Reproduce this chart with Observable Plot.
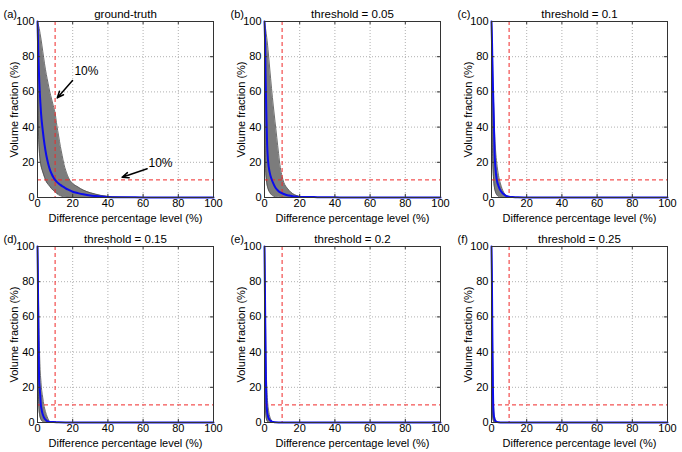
<!DOCTYPE html>
<html>
<head>
<meta charset="utf-8">
<script src="https://cdn.jsdelivr.net/npm/d3@7"></script>
<script src="https://cdn.jsdelivr.net/npm/@observablehq/plot@0.6"></script>
<style>
  html, body { margin: 0; padding: 0; background: #fff; }
  #chart { position: relative; width: 682px; height: 452px; overflow: hidden; }
  .panel { position: absolute; }
</style>
</head>
<body>
<div id="chart"></div>
<script>
// ---- data ----
const panelLabels = ["(a)", "(b)", "(c)", "(d)", "(e)", "(f)"];
const panelTitles = ["ground-truth", "threshold = 0.05", "threshold = 0.1", "threshold = 0.15", "threshold = 0.2", "threshold = 0.25"];
const xTicks = [0, 20, 40, 60, 80, 100];
const yTicks = [0, 20, 40, 60, 80, 100];
const xLabel = "Difference percentage level (%)";
const yLabel = "Volume fraction (%)";
const refLine = 10;

// (a) ground-truth
const diffA  = [0, 0.5, 1, 1.5, 2, 3, 4, 5, 6, 7, 8, 9, 10, 11, 12, 13, 14, 15, 16, 18, 20, 23, 26, 30, 33, 36, 40, 45, 50, 60, 70, 100];
const upperA = [100, 98, 96, 93, 90, 83, 76, 70, 65, 60, 56, 52, 48, 41, 35, 29, 24, 19, 15.5, 10.5, 8, 6, 4.2, 2.7, 1.9, 1.2, 0.6, 0.25, 0.1, 0, 0, 0];
const meanA  = [100, 80, 66, 56, 48, 38, 30, 24, 19.5, 16, 13.5, 11.5, 10, 8.9, 8, 7.2, 6.5, 5.9, 5.2, 4.2, 3.3, 2.5, 1.8, 1.1, 0.8, 0.55, 0.35, 0.2, 0.12, 0.05, 0, 0];
const lowerA = [100, 40, 27, 21, 18, 14.5, 11.5, 9, 7.5, 6.3, 5, 4, 3.2, 2.2, 1.5, 1, 0.6, 0.4, 0.2, 0.05, 0, 0, 0, 0, 0, 0, 0, 0, 0, 0, 0, 0];

// (b) threshold = 0.05
const diffB  = [0, 0.3, 0.6, 1, 1.5, 2, 3, 4, 5, 6, 7, 8, 9, 10, 11, 12, 13, 14, 16, 18, 20, 23, 26, 30, 35, 40, 47, 60, 100];
const upperB = [100, 98, 96, 93, 89, 84, 73, 62, 52, 43, 34, 25, 17, 12, 8.5, 6.5, 5.2, 4, 2.2, 1.2, 0.6, 0.2, 0, 0, 0, 0, 0, 0, 0];
const meanB  = [100, 90, 70, 50, 30, 21, 14, 10.5, 8, 6, 4.6, 3.6, 2.9, 2.4, 2, 1.6, 1.3, 1.1, 0.7, 0.5, 0.35, 0.3, 0.25, 0.2, 0.15, 0.1, 0, 0, 0];
const lowerB = [100, 35, 18, 11, 7, 5, 2.8, 1.5, 0.8, 0.4, 0.2, 0.1, 0, 0, 0, 0, 0, 0, 0, 0, 0, 0, 0, 0, 0, 0, 0, 0, 0];

// (c) threshold = 0.1
const diffC  = [0, 0.3, 0.6, 0.9, 1.3, 1.7, 2.3, 3, 4, 5, 6, 7, 8, 9, 10, 12, 15, 20, 30, 100];
const upperC = [100, 92, 78, 63, 50, 38, 27, 19.5, 12.5, 8.2, 5, 2.8, 1.3, 0.4, 0.1, 0, 0, 0, 0, 0];
const meanC  = [100, 88, 72, 60, 45, 27, 16, 10, 6.5, 4.2, 2.8, 1.8, 1.1, 0.7, 0.45, 0.25, 0.1, 0.05, 0, 0];
const lowerC = [100, 45, 25, 16, 9, 5.5, 3, 1.5, 0.5, 0.1, 0, 0, 0, 0, 0, 0, 0, 0, 0, 0];

// (d) threshold = 0.15
const diffD  = [0, 0.2, 0.4, 0.6, 0.9, 1.2, 1.5, 1.9, 2.3, 2.7, 3, 3.6, 4, 5, 5.5, 6, 6.5, 7.5, 9, 12, 20, 100];
const upperD = [100, 93, 80, 68, 50, 38, 30, 24, 19, 16, 14, 10, 8.2, 4.6, 3.2, 2, 1, 0.2, 0, 0, 0, 0];
const meanD  = [100, 85, 62, 45, 25, 20, 16, 10, 7.5, 5.5, 4.6, 3, 2.3, 1.2, 0.8, 0.6, 0.5, 0.35, 0.25, 0.1, 0, 0];
const lowerD = [100, 40, 22, 13, 7, 4.5, 3, 1.8, 1.1, 0.7, 0.5, 0.2, 0.1, 0, 0, 0, 0, 0, 0, 0, 0, 0];

// (e) threshold = 0.2
const diffE  = [0, 0.2, 0.4, 0.6, 0.8, 1.1, 1.5, 1.9, 2.3, 2.7, 3.5, 4.2, 5, 6, 10, 100];
const upperE = [100, 90, 72, 55, 40, 26, 16, 10, 7, 4.6, 2, 0.8, 0.2, 0, 0, 0];
const meanE  = [100, 80, 60, 40, 25, 12, 6, 3.8, 2.5, 1.7, 0.9, 0.5, 0.3, 0.1, 0, 0];
const lowerE = [100, 30, 14, 7, 4, 2, 0.8, 0.3, 0.1, 0, 0, 0, 0, 0, 0, 0];

// (f) threshold = 0.25
const diffF  = [0, 0.2, 0.4, 0.6, 0.8, 1, 1.3, 1.5, 1.8, 2, 2.5, 2.7, 3.5, 4, 6, 100];
const upperF = [100, 88, 66, 45, 28, 15, 7, 4.6, 3, 2.2, 1.1, 0.8, 0.1, 0, 0, 0];
const meanF  = [100, 85, 60, 38, 20, 9, 4, 2.8, 1.6, 1.2, 0.6, 0.5, 0.2, 0.1, 0, 0];
const lowerF = [100, 30, 10, 4, 2, 1.2, 0.4, 0.2, 0.05, 0, 0, 0, 0, 0, 0, 0];

// annotations in panel (a)
const annoText = ["10%", "10%"];
const annoX    = [27.8, 69.9];
const annoY    = [71.6, 19.3];
const arrowX1  = [19.9, 62.3];
const arrowY1  = [66.5, 16.3];
const arrowX2  = [11.2, 48.1];
const arrowY2  = [56.6, 11.5];

// ---- build ----
const series = [
  [diffA, upperA, meanA, lowerA],
  [diffB, upperB, meanB, lowerB],
  [diffC, upperC, meanC, lowerC],
  [diffD, upperD, meanD, lowerD],
  [diffE, upperE, meanE, lowerE],
  [diffF, upperF, meanF, lowerF]
];
const annotations = annoText.map((t, i) => ({t, x: annoX[i], y: annoY[i], x1: arrowX1[i], y1: arrowY1[i], x2: arrowX2[i], y2: arrowY2[i]}));

const W = 227, H = 225;
const font = "'Liberation Sans', Arial, Helvetica, sans-serif";
const chart = document.getElementById("chart");

series.forEach(([xs, up, mn, lo], i) => {
  const rows = xs.map((x, j) => ({x, upper: up[j], mean: mn[j], lower: lo[j]}));
  const marks = [
    Plot.ruleX(xTicks.slice(1, -1), {stroke: "#b0b0b0", strokeWidth: 1, strokeDasharray: "1,2"}),
    Plot.ruleY(yTicks.slice(1, -1), {stroke: "#b0b0b0", strokeWidth: 1, strokeDasharray: "1,2"}),
    Plot.areaY(rows, {x: "x", y1: "lower", y2: "upper", fill: "#7c7c7c", curve: "monotone-x"}),
    Plot.line(rows, {x: "x", y: "upper", stroke: "#4a4a4a", strokeWidth: 0.8, curve: "monotone-x"}),
    Plot.line(rows, {x: "x", y: "lower", stroke: "#4a4a4a", strokeWidth: 0.8, curve: "monotone-x"}),
    Plot.ruleX([refLine], {stroke: "#f02828", strokeWidth: 1, strokeDasharray: "4,3"}),
    Plot.ruleY([refLine], {stroke: "#f02828", strokeWidth: 1, strokeDasharray: "4,3"}),
    Plot.line(rows, {x: "x", y: "mean", stroke: "#0c0cec", strokeWidth: 2, curve: "monotone-x"}),
    Plot.frame({stroke: "#333", strokeWidth: 1}),
    Plot.ruleX(xTicks, {y1: 0, y2: 1.8, stroke: "#333"}),
    Plot.ruleX(xTicks, {y1: 98.2, y2: 100, stroke: "#333"}),
    Plot.ruleY(yTicks, {x1: 0, x2: 1.8, stroke: "#333"}),
    Plot.ruleY(yTicks, {x1: 98.2, x2: 100, stroke: "#333"}),
    Plot.text([panelTitles[i]], {frameAnchor: "top", textAnchor: "middle", lineAnchor: "middle", dy: -7, fontSize: 11.5, fill: "#000"}),
    Plot.text([panelLabels[i]], {frameAnchor: "top-left", textAnchor: "start", lineAnchor: "middle", dx: -34, dy: -7, fontSize: 11, fill: "#000"}),
    Plot.text([xLabel], {frameAnchor: "bottom", textAnchor: "middle", lineAnchor: "middle", dy: 20.5, fontSize: 11, fill: "#000"}),
    Plot.text([yLabel], {frameAnchor: "left", textAnchor: "middle", lineAnchor: "middle", dx: -23, rotate: -90, fontSize: 11, fill: "#000"})
  ];
  if (i === 0) {
    marks.push(
      Plot.arrow(annotations, {x1: "x1", y1: "y1", x2: "x2", y2: "y2", stroke: "#000", strokeWidth: 1.5, headLength: 7, headAngle: 45}),
      Plot.text(annotations, {x: "x", y: "y", text: "t", fontSize: 12, fill: "#000"})
    );
  }
  const svg = Plot.plot({
    width: W,
    height: H,
    marginLeft: 37,
    marginRight: 14,
    marginTop: 21,
    marginBottom: 28,
    style: {fontFamily: font, fontSize: "11px", color: "#000", background: "transparent", overflow: "visible"},
    x: {domain: [0, 100], ticks: xTicks, tickSize: 0, tickPadding: 2, label: null},
    y: {domain: [0, 100], ticks: yTicks, tickSize: 0, tickPadding: 3, label: null},
    marks
  });
  const div = document.createElement("div");
  div.className = "panel";
  div.style.left = (i % 3) * W + "px";
  div.style.top = Math.floor(i / 3) * H + "px";
  div.appendChild(svg);
  chart.appendChild(div);
});
</script>
</body>
</html>
